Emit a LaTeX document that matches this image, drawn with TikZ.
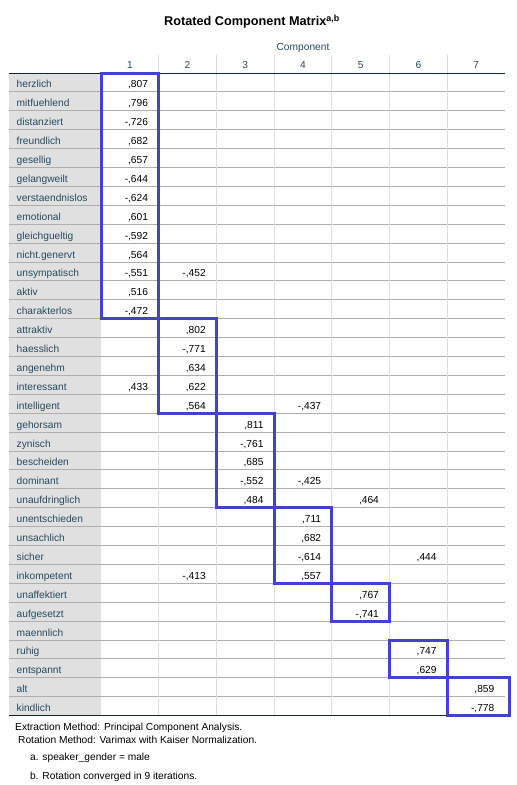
\documentclass[tikz,border=0pt]{standalone}
\usepackage{fontspec}
\setmainfont{Liberation Sans}
\usetikzlibrary{calc}
\definecolor{boxblue}{RGB}{66,66,204}
\definecolor{headtext}{HTML}{264A60}
\definecolor{rowline}{HTML}{AEAEAE}
\definecolor{colline}{HTML}{DDDDDD}
\definecolor{labelfill}{HTML}{E0E0E0}
\definecolor{ruleline}{HTML}{152935}
\newcommand\tablefont{\fontsize{10.2}{12}\selectfont}
\def\cellval(#1,#2)#3{\node[valtext] (v#1r#2) at ({101+57.71*#1-10.5}, {73+18.9*(#2-0.5)+5.5}) {#3};}
\def\blockbox(#1:#2:#3){\draw[blockline] ({101+57.71*(#1-1)}, {73+18.9*(#2-1)}) rectangle ({101+57.71*#1}, {73+18.9*#3});}
\tikzset{
	valtext/.style={anchor=base east, inner sep=0pt, font=\tablefont, text=black},
	labtext/.style={anchor=base west, inner sep=0pt, font=\tablefont, text=headtext},
	headnum/.style={anchor=base, inner sep=0pt, font=\tablefont, text=headtext},
	notetext/.style={anchor=base west, inner sep=0pt, font=\tablefont, text=black},
	titletext/.style={anchor=base, inner sep=0pt, font=\fontsize{12.7}{15}\bfseries, text=black},
	blockline/.style={line width=3pt, draw=boxblue},
}

\begin{document}
\begin{tikzpicture}[x=1pt, y=-1pt]
		%%%%% START %%%%%
		\useasboundingbox (0, 0) rectangle (517, 785);
		
		\node[titletext] (title) at (252, 25.5) {Rotated Component Matrix\textsuperscript{a,b}};
		\node[headnum] (comp) at (303, 50.5) {Component};
		
		\fill[labelfill] (9, 73) rectangle (101, 715.6);
		\foreach \r in {1,...,33}
			\draw[line width=1pt, rowline] (9, {73+18.9*\r}) -- (505, {73+18.9*\r});
		\foreach \c in {1,...,6}
			\draw[line width=1pt, colline] ({101+57.71*\c}, 55) -- ({101+57.71*\c}, 715.6);
		\draw[line width=1pt, ruleline] (9, 73) -- (505, 73);
		\draw[line width=1pt, ruleline] (9, 715.6) -- (505, 715.6);
		
		\foreach \c in {1,...,7}
			\node[headnum] (h\c) at ({101+57.71*(\c-0.5)}, 68.5) {\c};
		
		\foreach \lab [count=\r] in {herzlich, mitfuehlend, distanziert, freundlich, gesellig, gelangweilt, verstaendnislos, emotional, gleichgueltig, nicht.genervt, unsympatisch, aktiv, charakterlos, attraktiv, haesslich, angenehm, interessant, intelligent, gehorsam, zynisch, bescheiden, dominant, unaufdringlich, unentschieden, unsachlich, sicher, inkompetent, unaffektiert, aufgesetzt, maennlich, ruhig, entspannt, alt, kindlich}
			\node[labtext] (lab\r) at (16.5, {73+18.9*(\r-0.5)+5.5}) {\lab};
		
		% component 1
		\cellval(1,1){,807}
		\cellval(1,2){,796}
		\cellval(1,3){-,726}
		\cellval(1,4){,682}
		\cellval(1,5){,657}
		\cellval(1,6){-,644}
		\cellval(1,7){-,624}
		\cellval(1,8){,601}
		\cellval(1,9){-,592}
		\cellval(1,10){,564}
		\cellval(1,11){-,551}
		\cellval(1,12){,516}
		\cellval(1,13){-,472}
		\cellval(1,17){,433}
		
		% component 2
		\cellval(2,11){-,452}
		\cellval(2,14){,802}
		\cellval(2,15){-,771}
		\cellval(2,16){,634}
		\cellval(2,17){,622}
		\cellval(2,18){,564}
		\cellval(2,27){-,413}
		
		% component 3
		\cellval(3,19){,811}
		\cellval(3,20){-,761}
		\cellval(3,21){,685}
		\cellval(3,22){-,552}
		\cellval(3,23){,484}
		
		% component 4
		\cellval(4,18){-,437}
		\cellval(4,22){-,425}
		\cellval(4,24){,711}
		\cellval(4,25){,682}
		\cellval(4,26){-,614}
		\cellval(4,27){,557}
		
		% component 5
		\cellval(5,23){,464}
		\cellval(5,28){,767}
		\cellval(5,29){-,741}
		
		% component 6
		\cellval(6,26){,444}
		\cellval(6,31){,747}
		\cellval(6,32){,629}
		
		% component 7
		\cellval(7,33){,859}
		\cellval(7,34){-,778}
		
		\blockbox(1:1:13)
		\blockbox(2:14:18)
		\blockbox(3:19:23)
		\blockbox(4:24:27)
		\blockbox(5:28:29)
		\blockbox(6:31:32)
		\draw[blockline] ({101+57.71*6}, {73+18.9*32}) rectangle (509.5, {73+18.9*34});
		
		\node[notetext] (note1) at (15, 730) {Extraction Method: Principal Component Analysis.};
		\node[notetext] (note2) at (18, 743) {Rotation Method: Varimax with Kaiser Normalization.};
		\node[notetext] (note3) at (30, 760.5) {a. speaker\_gender = male};
		\node[notetext] (note4) at (30, 779.5) {b. Rotation converged in 9 iterations.};
		
		%%%%% END %%%%%
	\end{tikzpicture}
\end{document}
